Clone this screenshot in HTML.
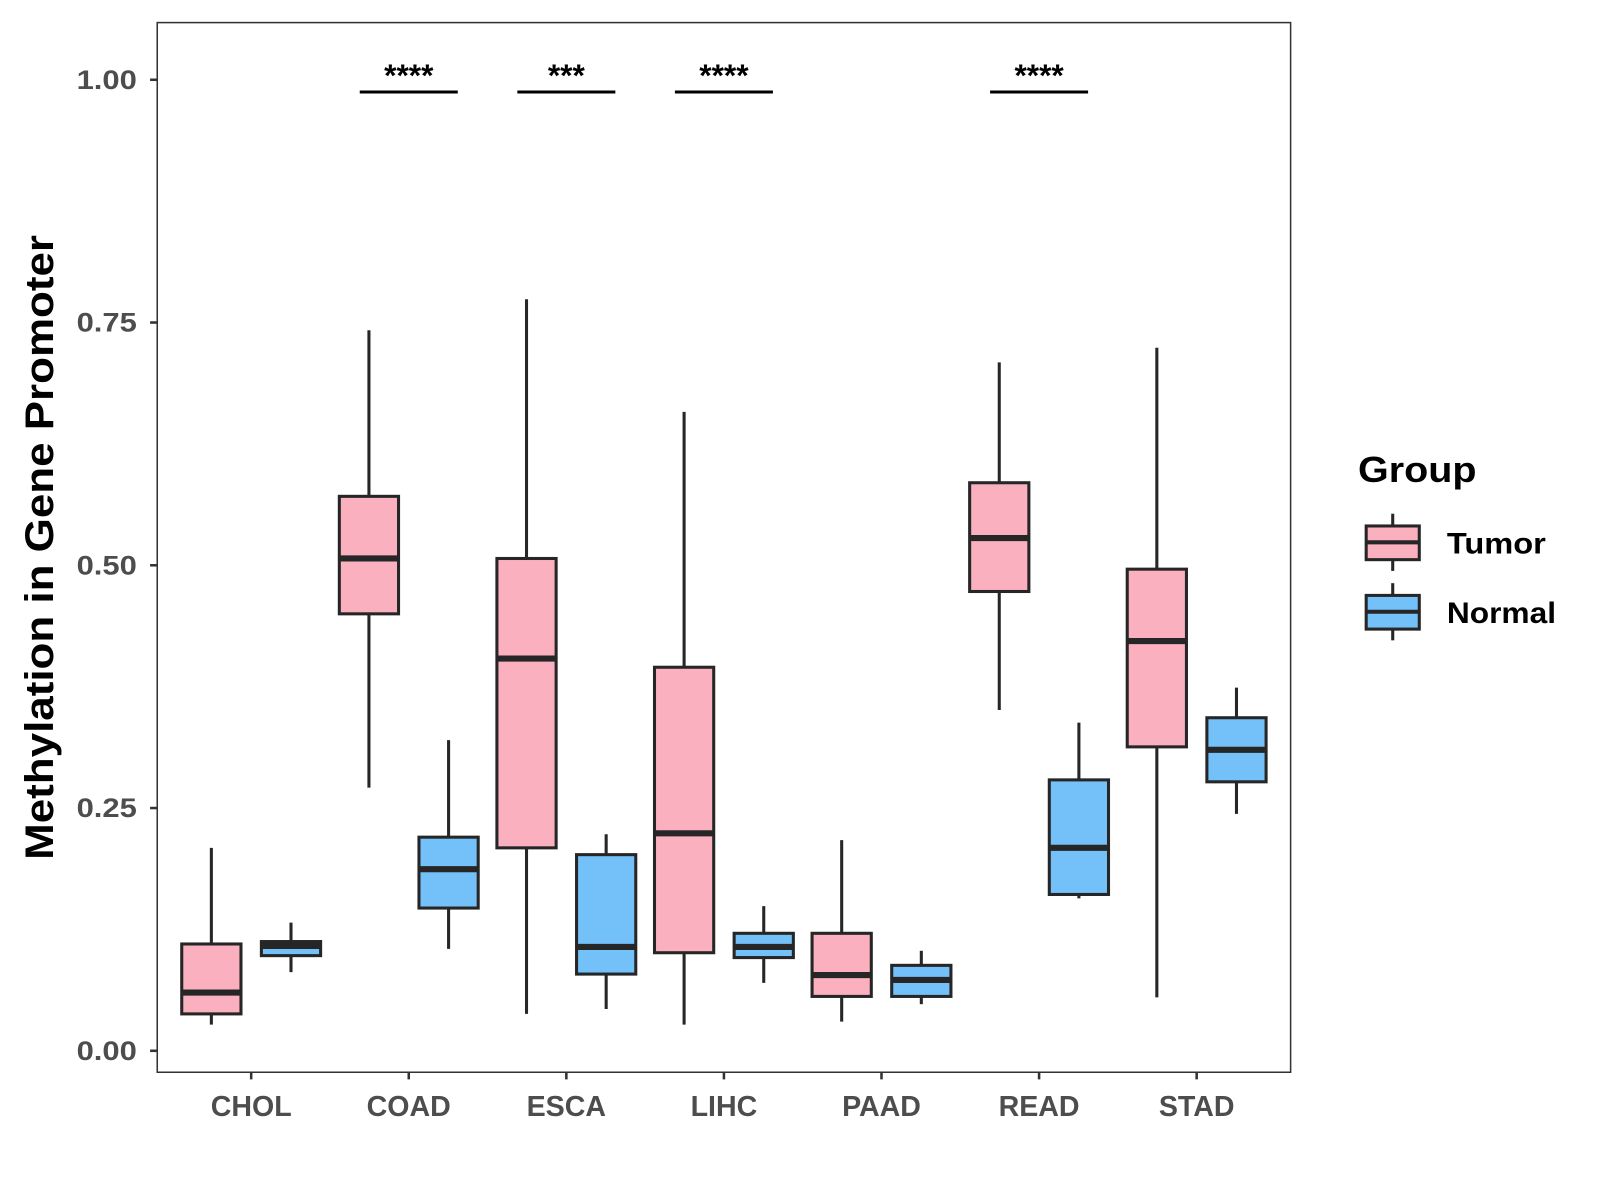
<!DOCTYPE html>
<html><head><meta charset="utf-8"><style>html,body{margin:0;padding:0;background:#fff}svg{display:block}</style></head>
<body>
<svg id="chart" width="1600" height="1200" viewBox="0 0 1567 1175" xmlns="http://www.w3.org/2000/svg" font-family="Liberation Sans, Arial, sans-serif">
<rect width="1567" height="1175" fill="#fff"/>
<g id="plot"></g>
<text transform="translate(52,536) rotate(-90)" text-anchor="middle" font-size="39" font-weight="bold" fill="#000" textLength="612" lengthAdjust="spacingAndGlyphs">Methylation in Gene Promoter</text>
<g>
<text x="1330" y="472" font-size="35" font-weight="bold" textLength="116" lengthAdjust="spacingAndGlyphs">Group</text>
<g>
<line x1="1364" y1="503" x2="1364" y2="559" stroke="#262626" stroke-width="3"/>
<rect x="1338" y="515" width="52" height="33" fill="#fbb0c0" stroke="#262626" stroke-width="3"/>
<line x1="1338" y1="531" x2="1390" y2="531" stroke="#262626" stroke-width="4"/>
<text x="1417" y="542" font-size="29" font-weight="bold" textLength="97" lengthAdjust="spacingAndGlyphs">Tumor</text></g>
<g>
<line x1="1364" y1="571" x2="1364" y2="627" stroke="#262626" stroke-width="3"/>
<rect x="1338" y="583" width="52" height="33" fill="#74c0f8" stroke="#262626" stroke-width="3"/>
<line x1="1338" y1="599" x2="1390" y2="599" stroke="#262626" stroke-width="4"/>
<text x="1417" y="610" font-size="29" font-weight="bold" textLength="107" lengthAdjust="spacingAndGlyphs">Normal</text></g>
</g>
</svg>
<script>
const categories=["CHOL","COAD","ESCA","LIHC","PAAD","READ","STAD"];
// [low, q1, median, q3, high]
const tumorStats=[[0.027,0.038,0.060,0.110,0.209],[0.271,0.450,0.507,0.571,0.742],[0.038,0.209,0.404,0.507,0.774],[0.027,0.101,0.224,0.395,0.658],[0.030,0.056,0.078,0.121,0.217],[0.351,0.473,0.528,0.585,0.709],[0.055,0.313,0.422,0.496,0.724]];
const normalStats=[[0.081,0.098,0.108,0.1125,0.132],[0.105,0.147,0.187,0.220,0.320],[0.043,0.079,0.107,0.202,0.223],[0.070,0.096,0.107,0.121,0.149],[0.048,0.056,0.073,0.088,0.103],[0.157,0.161,0.209,0.279,0.338],[0.244,0.277,0.310,0.343,0.374]];
const yTicks=[0,0.25,0.5,0.75,1];
const yTickLabels=["0.00","0.25","0.50","0.75","1.00"];
const sigLabels=["","****","***","****","","****",""];

const NS="http://www.w3.org/2000/svg";
const g=document.getElementById('plot');
const L=154,R=1264,T=22,B=1050;
const y=v=>1029-v*951;
const x=i=>246+i*154.33;
function mk(t,a,p){const e=document.createElementNS(NS,t);for(const k in a)e.setAttribute(k,a[k]);(p||g).appendChild(e);return e;}

const frame=mk('rect',{x:L,y:T,width:R-L,height:B-T,fill:'none',stroke:'#333',"stroke-width":1.5});


yTicks.forEach((v,i)=>{
  const t=mk('line',{x1:L-7,x2:L,y1:y(v),y2:y(v),stroke:'#333',"stroke-width":2.5});
  
  
  const l=mk('text',{x:L-20,y:y(v)+9,"text-anchor":"end","font-size":26,"font-weight":"bold",fill:'#4d4d4d',textLength:59,lengthAdjust:"spacingAndGlyphs"});
  l.textContent=yTickLabels[i];
  
  
});
categories.forEach((c,i)=>{
  const t=mk('line',{x1:x(i),x2:x(i),y1:B,y2:B+7,stroke:'#333',"stroke-width":2.5});
  
  
  const l=mk('text',{x:x(i),y:1093,"text-anchor":"middle","font-size":28,"font-weight":"bold",fill:'#4d4d4d'});
  l.textContent=c;
  
  
  [[tumorStats[i],-39,'#fbb0c0','tumor'],[normalStats[i],39,'#74c0f8','normal']].forEach(([s,off,fill,nm])=>{
    const cx=x(i)+off,w=58;
    const grp=mk('g',{});
    
    
    mk('line',{x1:cx,x2:cx,y1:y(s[0]),y2:y(s[4]),stroke:'#262626',"stroke-width":3},grp);
    mk('rect',{x:cx-w/2,y:y(s[3]),width:w,height:y(s[1])-y(s[3]),fill:fill,stroke:'#262626',"stroke-width":3},grp);
    mk('line',{x1:cx-w/2,x2:cx+w/2,y1:y(s[2]),y2:y(s[2]),stroke:'#262626',"stroke-width":6},grp);
  });
  if(sigLabels[i]){
    const sg=mk('g',{});
    
    
    mk('line',{x1:x(i)-48,x2:x(i)+48,y1:90,y2:90,stroke:'#000',"stroke-width":3},sg);
    const st=mk('text',{x:x(i),y:84,"text-anchor":"middle","font-size":31,"font-weight":"bold"},sg);
    st.textContent=sigLabels[i];
  }
});
</script>
</body></html>
